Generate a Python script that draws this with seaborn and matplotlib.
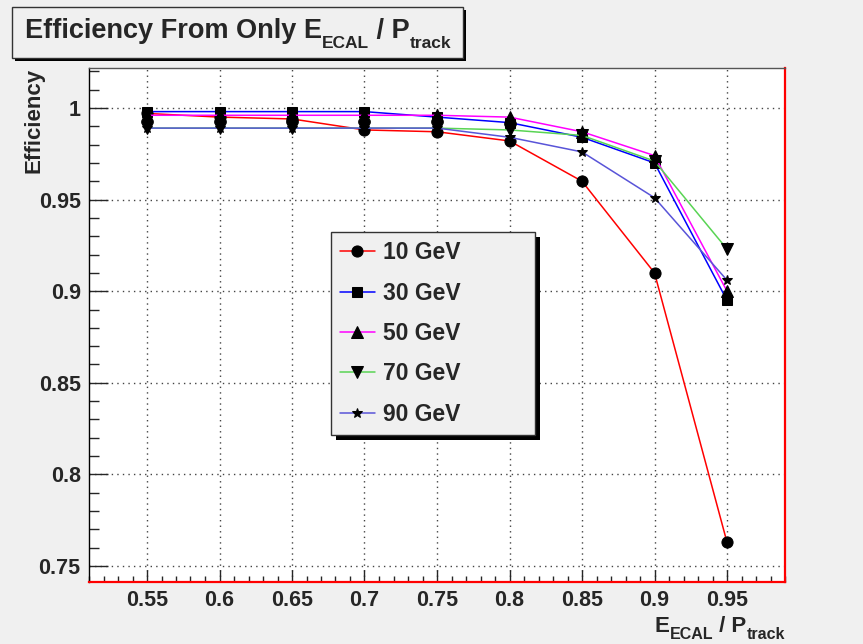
import numpy as np
import pandas as pd
import seaborn as sns
import matplotlib
matplotlib.use("Agg")
import matplotlib.pyplot as plt
from matplotlib.patches import Rectangle
from matplotlib.ticker import MultipleLocator

sns.set_style("white")
plt.rcParams['font.family'] = ['Liberation Sans', 'DejaVu Sans']
plt.rcParams['font.weight'] = 'bold'

# E/p cut values
cuts = [0.55, 0.60, 0.65, 0.70, 0.75, 0.80, 0.85, 0.90, 0.95]

# efficiency per beam energy
eff_10 = [0.997, 0.995, 0.994, 0.988, 0.987, 0.982, 0.960, 0.910, 0.763]
eff_30 = [0.998, 0.998, 0.998, 0.998, 0.995, 0.992, 0.984, 0.970, 0.895]
eff_50 = [0.996, 0.996, 0.996, 0.996, 0.996, 0.995, 0.987, 0.974, 0.900]
eff_70 = [0.989, 0.989, 0.989, 0.989, 0.989, 0.988, 0.985, 0.971, 0.923]
eff_90 = [0.989, 0.989, 0.989, 0.989, 0.989, 0.984, 0.976, 0.951, 0.906]

labels = ['10 GeV', '30 GeV', '50 GeV', '70 GeV', '90 GeV']
series = [eff_10, eff_30, eff_50, eff_70, eff_90]
colors = ['#ff0000', '#0000ff', '#ff00ff', '#59d454', '#5954d8']
markers = ['o', 's', '^', 'v', '*']
msizes = [8, 7.5, 8, 8, 7.5]

xtick_vals = [0.55, 0.6, 0.65, 0.7, 0.75, 0.8, 0.85, 0.9, 0.95]
xtick_labels = ['0.55', '0.6', '0.65', '0.7', '0.75', '0.8', '0.85', '0.9', '0.95']
ytick_vals = [0.75, 0.8, 0.85, 0.9, 0.95, 1.0]
ytick_labels = ['0.75', '0.8', '0.85', '0.9', '0.95', '1']

bg = '#f0f0f0'
W, H = 863, 644
fig = plt.figure(figsize=(W / 100, H / 100), dpi=100, facecolor=bg)
ax = fig.add_axes([89 / W, 1 - 582 / H, (785 - 89) / W, (582 - 68) / H])
ax.set_facecolor('white')

for vals, lab, c, m, ms in zip(series, labels, colors, markers, msizes):
    sns.lineplot(x=cuts, y=vals, ax=ax, color=c, lw=1.1, marker=m, markersize=ms,
                 markerfacecolor='black', markeredgecolor='black', label=lab,
                 zorder=3)

ax.set_xlim(0.51, 0.99)
ax.set_ylim(0.7413, 1.0218)

ax.xaxis.set_minor_locator(MultipleLocator(0.01))
ax.yaxis.set_minor_locator(MultipleLocator(0.01))
ax.set_xticks(xtick_vals)
ax.set_xticklabels(xtick_labels)
ax.set_yticks(ytick_vals)
ax.set_yticklabels(ytick_labels)

ax.tick_params(axis='x', which='major', direction='in', length=8.5, width=1, labelsize=15.5, pad=6)
ax.tick_params(axis='x', which='minor', direction='in', length=4, width=1)
ax.tick_params(axis='y', which='major', direction='in', length=14, width=1, labelsize=15.5, pad=6)
ax.tick_params(axis='y', which='minor', direction='in', length=7.5, width=1)
ax.tick_params(bottom=True, left=True, top=False, right=False, which='both')

ax.grid(True, which='major', color='#444444', linestyle=(0, (1, 3)), lw=1)

ax.spines['left'].set_color('black')
ax.spines['top'].set_color('#555555')
ax.spines['right'].set_color('red')
ax.spines['bottom'].set_color('red')
ax.spines['right'].set_linewidth(1.6)
ax.spines['bottom'].set_linewidth(1.6)
ax.spines['left'].set_linewidth(1)
ax.spines['top'].set_linewidth(1)

ax.set_ylabel('Efficiency', fontsize=16, fontweight='bold', loc='top')
ax.yaxis.set_label_coords(-0.064, 1.0)

leg = ax.legend(loc='upper left', bbox_to_anchor=(0.3477, 0.288, 0.293, 0.393), mode='expand',
                fontsize=16.5, frameon=True, fancybox=False, edgecolor='#333333', facecolor=bg,
                framealpha=1, borderpad=0.4, handlelength=1.5, handletextpad=0.35,
                labelspacing=0.76, borderaxespad=0)
leg.get_frame().set_linewidth(1)
leg.set_zorder(10)

# title box with shadow
fig.patches.append(Rectangle((15 / W, 1 - 61 / H), 451 / W, 51 / H, transform=fig.transFigure,
                             facecolor='black', edgecolor='none'))
fig.patches.append(Rectangle((12 / W, 1 - 58 / H), 451 / W, 51 / H, transform=fig.transFigure,
                             facecolor=bg, edgecolor='#333333', lw=1))

renderer = fig.canvas.get_renderer()


def rich_text(pieces, x, y, align='left'):
    # pieces: (text, fontsize, drop in px); x, y in pixels from top-left, y is baseline
    arts = []
    widths = []
    for txt, size, drop in pieces:
        t = fig.text(0, 0, txt, fontsize=size, fontweight='bold', va='baseline', ha='left')
        widths.append(t.get_window_extent(renderer).width)
        arts.append((t, drop))
    total = sum(widths)
    if align == 'center':
        x -= total / 2
    elif align == 'right':
        x -= total
    for (t, drop), w in zip(arts, widths):
        t.set_position((x / W, 1 - (y + drop) / H))
        x += w


rich_text([('Efficiency From Only E', 19.5, 0), ('ECAL', 12.5, 10),
           (' / P', 19.5, 0), ('track', 12.5, 10)], 238, 38, align='center')
rich_text([('E', 16, 0), ('ECAL', 11.5, 7), (' / P', 16, 0), ('track', 11.5, 7)],
          785, 632, align='right')

# legend shadow
fig.canvas.draw()
bb = leg.get_window_extent()
inv = ax.transAxes.inverted()
(x0, y0), (x1, y1) = inv.transform([(bb.x0 + 5, bb.y0 - 5), (bb.x1 + 5, bb.y1 - 5)])
sh = Rectangle((x0, y0), x1 - x0, y1 - y0, transform=ax.transAxes, facecolor='black',
               edgecolor='none', zorder=9, clip_on=False)
ax.add_artist(sh)

fig.savefig('out.png', dpi=100, facecolor=bg)
